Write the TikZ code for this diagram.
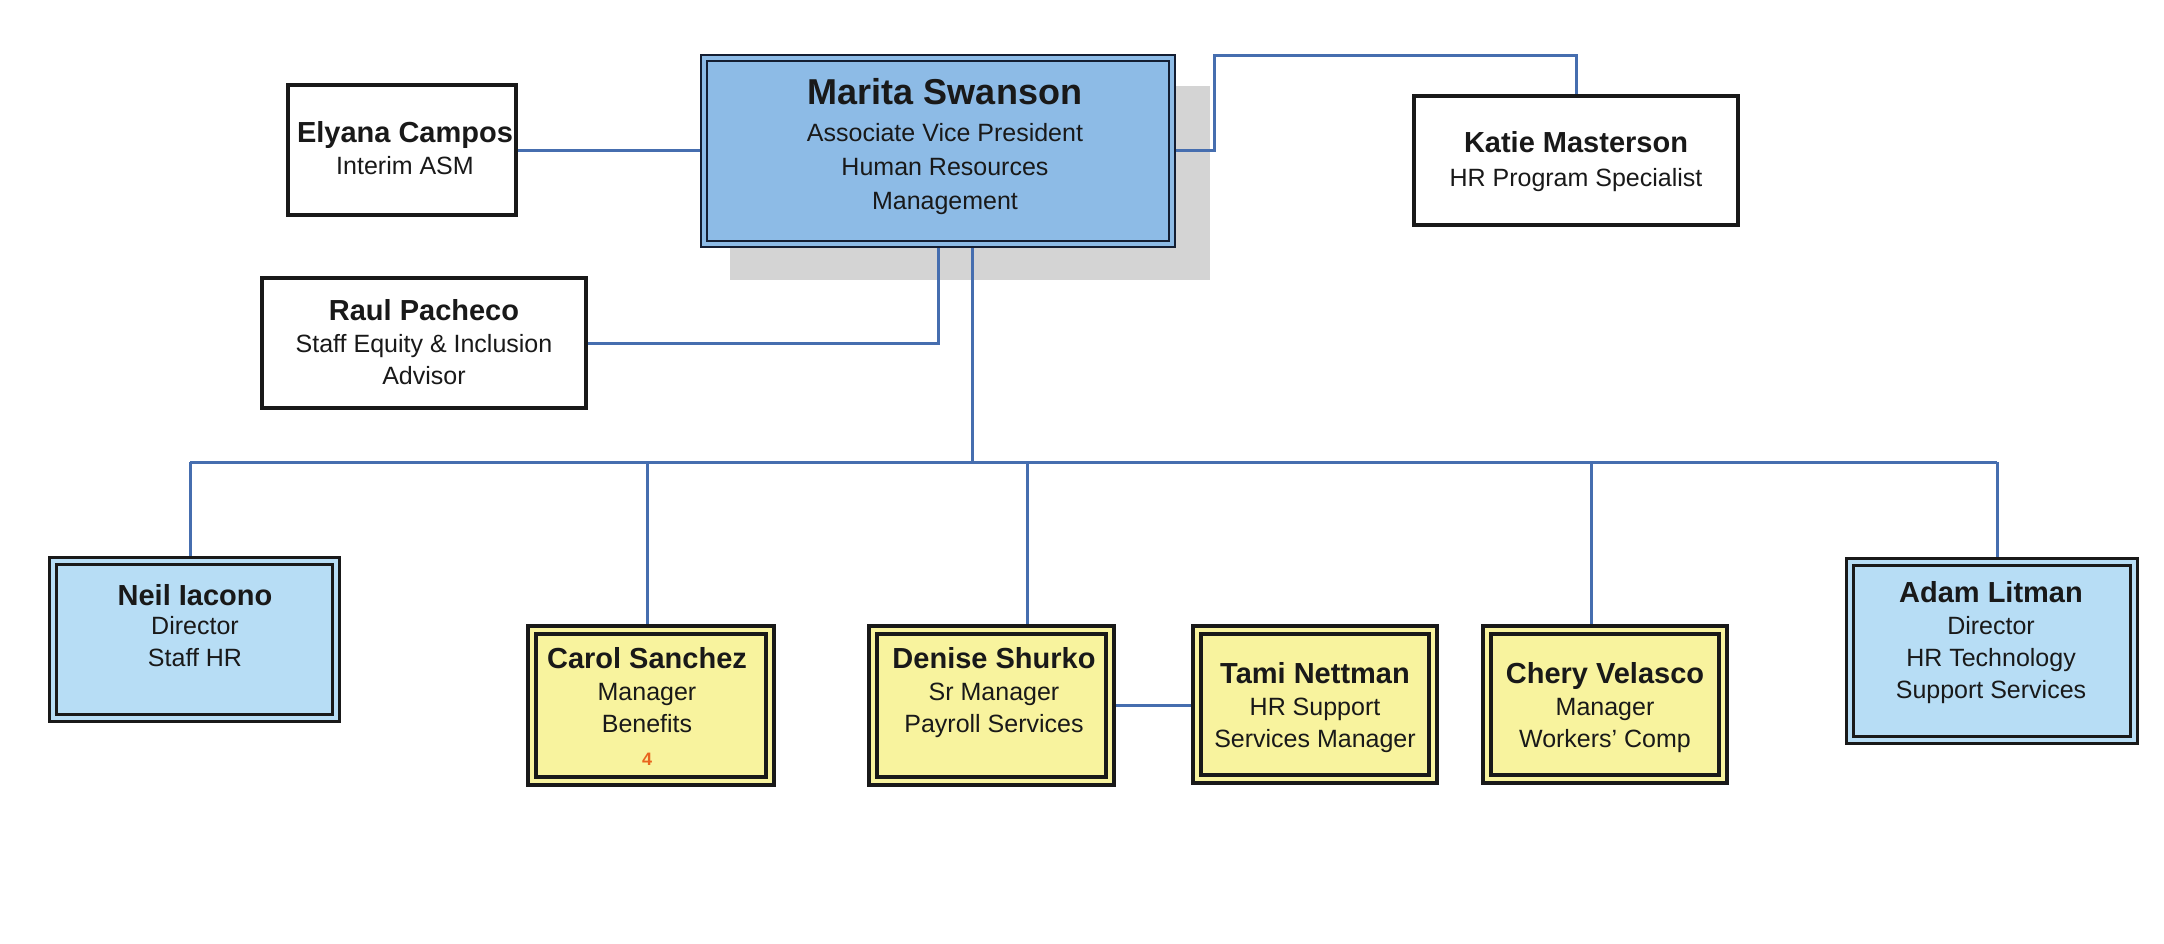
\documentclass[tikz,border=0pt]{standalone}
\usepackage{fontspec}
\setmainfont{Liberation Sans}
\definecolor{lineblue}{RGB}{70,110,175}
\definecolor{mainfill}{RGB}{141,187,230}
\definecolor{navy}{RGB}{20,30,50}
\definecolor{lightblue}{RGB}{183,221,245}
\definecolor{yellowfill}{RGB}{248,243,158}
\definecolor{shadowgray}{RGB}{212,212,212}
\definecolor{boxline}{RGB}{25,25,25}
\definecolor{textc}{RGB}{25,25,25}
\definecolor{orangec}{RGB}{232,100,30}
\newcommand{\nm}[1]{{\fontsize{29}{32}\selectfont\bfseries #1}}
\newcommand{\nmbig}[1]{{\fontsize{36}{34}\selectfont\bfseries #1}}
\pgfdeclarelayer{bg}
\pgfsetlayers{bg,main}
\tikzset{
  conn/.style={draw=lineblue, line width=3pt},
  plainbox/.style={draw=boxline, line width=3.5pt, fill=white, inner sep=0pt},
  mainbox/.style={draw=navy, double=mainfill, double distance=4pt, line width=2pt, fill=mainfill, inner sep=0pt},
  bluebox/.style={draw=boxline, double=lightblue, double distance=4pt, line width=3pt, fill=lightblue, inner sep=0pt},
  yellowbox/.style={draw=boxline, double=yellowfill, double distance=3.5pt, line width=4pt, fill=yellowfill, inner sep=0pt},
  card/.style={anchor=north, align=center, inner sep=0pt, text=textc, font=\fontsize{25}{32}\selectfont},
}
\begin{document}
\begin{tikzpicture}[x=1pt,y=-1pt]
\useasboundingbox (0,0) rectangle (2164,943);
% boxes
\node[mainbox, minimum width=468pt, minimum height=186pt] (main) at (938,151) {};
\node[plainbox, minimum width=228pt, minimum height=130pt] (elyana) at (402,150) {};
\node[plainbox, minimum width=324pt, minimum height=130pt] (raul) at (424,343) {};
\node[plainbox, minimum width=324pt, minimum height=129pt] (katie) at (1576,160.5) {};
\node[bluebox, minimum width=283pt, minimum height=157pt] (neil) at (194.5,639.5) {};
\node[bluebox, minimum width=284pt, minimum height=178pt] (adam) at (1992,651) {};
\node[yellowbox, minimum width=238pt, minimum height=151pt] (carol) at (651,705.5) {};
\node[yellowbox, minimum width=237pt, minimum height=151pt] (denise) at (991.5,705.5) {};
\node[yellowbox, minimum width=236pt, minimum height=149pt] (tami) at (1315,704.5) {};
\node[yellowbox, minimum width=236pt, minimum height=149pt] (chery) at (1605,704.5) {};
% connector coordinates
\coordinate (k1) at (1214,55);
\coordinate (ky) at (1214,150);
\coordinate (r1) at (938,343);
\coordinate (b0) at (972,462);
\coordinate (bN) at (190,462);
\coordinate (bC) at (647,462);
\coordinate (bD) at (1027,462);
\coordinate (bCh) at (1591,462);
\coordinate (bA) at (1997,462);
\begin{pgfonlayer}{bg}
\fill[shadowgray] (730,86) rectangle (1210,280);
\draw[conn] (elyana.east) -- (elyana.east -| main.west);
\draw[conn] (main.east |- ky) -- (ky) -- (k1) -- (k1 -| katie.north) -- (katie.north);
\draw[conn] (main.south -| r1) -- (r1) -- (raul.east |- r1);
\draw[conn] (main.south -| b0) -- (b0);
\draw[conn] (bN) -- (bA);
\draw[conn] (bN) -- (bN |- neil.north);
\draw[conn] (bC) -- (bC |- carol.north);
\draw[conn] (bD) -- (bD |- denise.north);
\draw[conn] (bCh) -- (bCh |- chery.north);
\draw[conn] (bA) -- (bA |- adam.north);
\draw[conn] (denise.east |- 0,705) -- (tami.west |- 0,705);
\end{pgfonlayer}
% texts
\node[card, font=\fontsize{25}{34}\selectfont] (tmain) at (945,78) {\nmbig{Marita Swanson}\\[3pt]Associate Vice President\\Human Resources\\Management};
\node[card] (telyana) at (405,121.5) {\nm{Elyana Campos}\\Interim ASM};
\node[card] (traul) at (424,299.5) {\nm{Raul Pacheco}\\Staff Equity \& Inclusion\\Advisor};
\node[card] (tkatie) at (1576,131.5) {\nm{Katie Masterson}\\[2pt]HR Program Specialist};
\node[card] (tneil) at (195,584.5) {\nm{Neil Iacono}\\[-3pt]Director\\Staff HR};
\node[card] (tadam) at (1991,581.5) {\nm{Adam Litman}\\Director\\HR Technology\\Support Services};
\node[card] (tcarol) at (647,647.5) {\nm{Carol Sanchez}\\Manager\\Benefits\\[1pt]{\fontsize{18}{20}\selectfont\bfseries\color{orangec}4}};
\node[card] (tdenise) at (994,647.5) {\nm{Denise Shurko}\\Sr Manager\\Payroll Services};
\node[card] (ttami) at (1315,662.5) {\nm{Tami Nettman}\\HR Support\\Services Manager};
\node[card] (tchery) at (1605,662.5) {\nm{Chery Velasco}\\Manager\\Workers' Comp};
\end{tikzpicture}
\end{document}
